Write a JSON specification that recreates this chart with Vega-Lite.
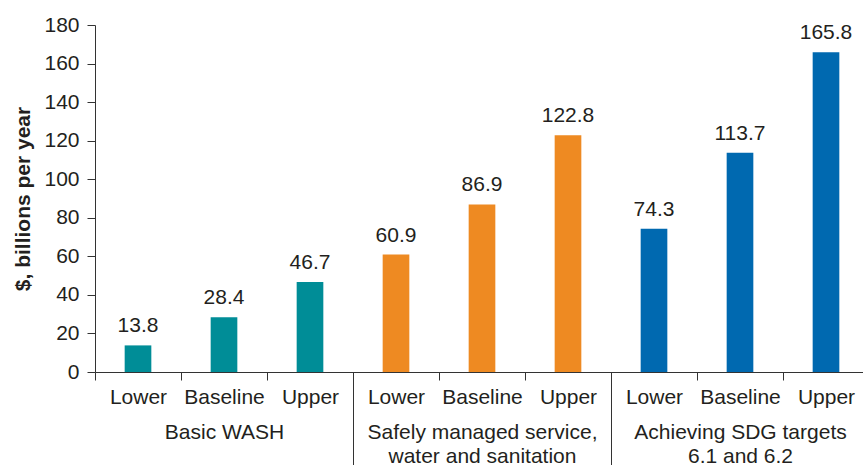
{
  "$schema": "https://vega.github.io/schema/vega-lite/v6.json",
  "width": 774,
  "height": 347,
  "autosize": "none",
  "padding": {"left": 95, "top": 25, "right": -6, "bottom": 93},
  "background": "white",
  "config": {
    "view": {"stroke": null},
    "font": "Liberation Sans",
    "axis": {
      "labelFont": "Liberation Sans",
      "titleFont": "Liberation Sans",
      "labelColor": "#231f20",
      "titleColor": "#231f20",
      "domainColor": "#333333",
      "tickColor": "#333333",
      "labelFontSize": 21,
      "grid": false
    }
  },
  "data": {
    "values": [
      {"group": "Basic WASH", "scenario": "Lower", "bar": "Basic WASH: Lower", "value": 13.8},
      {"group": "Basic WASH", "scenario": "Baseline", "bar": "Basic WASH: Baseline", "value": 28.4},
      {"group": "Basic WASH", "scenario": "Upper", "bar": "Basic WASH: Upper", "value": 46.7},
      {"group": "Safely managed service, water and sanitation", "scenario": "Lower", "bar": "Safely managed service, water and sanitation: Lower", "value": 60.9},
      {"group": "Safely managed service, water and sanitation", "scenario": "Baseline", "bar": "Safely managed service, water and sanitation: Baseline", "value": 86.9},
      {"group": "Safely managed service, water and sanitation", "scenario": "Upper", "bar": "Safely managed service, water and sanitation: Upper", "value": 122.8},
      {"group": "Achieving SDG targets 6.1 and 6.2", "scenario": "Lower", "bar": "Achieving SDG targets 6.1 and 6.2: Lower", "value": 74.3},
      {"group": "Achieving SDG targets 6.1 and 6.2", "scenario": "Baseline", "bar": "Achieving SDG targets 6.1 and 6.2: Baseline", "value": 113.7},
      {"group": "Achieving SDG targets 6.1 and 6.2", "scenario": "Upper", "bar": "Achieving SDG targets 6.1 and 6.2: Upper", "value": 165.8}
    ]
  },
  "encoding": {
    "y": {
      "field": "value",
      "type": "quantitative",
      "scale": {"domain": [0, 180], "nice": false},
      "axis": {
        "values": [0, 20, 40, 60, 80, 100, 120, 140, 160, 180],
        "title": "$, billions per year",
        "titleFontWeight": "bold",
        "titleFontSize": 21,
        "titlePadding": 10,
        "tickSize": 8,
        "labelPadding": 8
      }
    }
  },
  "layer": [
    {
      "mark": {"type": "bar", "width": {"band": 0.31}},
      "encoding": {
        "x": {
          "field": "bar",
          "type": "nominal",
          "sort": null,
          "scale": {"paddingInner": 0, "paddingOuter": 0},
          "axis": {
            "orient": "bottom",
            "title": null,
            "labelExpr": "split(datum.value, ': ')[1]",
            "labelAngle": 0,
            "labelPadding": 6,
            "labelOverlap": false,
            "labelLimit": 400,
            "tickBand": "extent",
            "tickSize": 8,
            "tickOpacity": {"condition": {"test": "datum.index >= 1 || datum.value == 'Achieving SDG targets 6.1 and 6.2: Upper'", "value": 0}, "value": 1}
          }
        },
        "color": {
          "field": "group",
          "type": "nominal",
          "sort": null,
          "scale": {"range": ["#008d97", "#ee8a22", "#0069b0"]},
          "legend": null
        }
      }
    },
    {
      "mark": {"type": "text", "baseline": "alphabetic", "dy": -13, "fontSize": 21, "color": "#231f20", "font": "Liberation Sans"},
      "encoding": {
        "x": {
          "field": "bar",
          "type": "nominal",
          "sort": null,
          "axis": {
            "orient": "bottom",
            "title": null,
            "domain": false,
            "labelExpr": "split(datum.value, ': ')[1] == 'Baseline' ? (split(datum.value, ': ')[0] == 'Basic WASH' ? 'Basic WASH' : (split(datum.value, ': ')[0] == 'Safely managed service, water and sanitation' ? ['Safely managed service,', 'water and sanitation'] : ['Achieving SDG targets', '6.1 and 6.2'])) : ''",
            "labelAngle": 0,
            "labelPadding": -44,
            "labelLineHeight": 24,
            "labelOverlap": false,
            "labelLimit": 400,
            "tickBand": "extent",
            "tickSize": 93,
            "tickOpacity": {"condition": {"test": "datum.index >= 1 || datum.value == 'Basic WASH: Upper' || datum.value == 'Safely managed service, water and sanitation: Upper'", "value": 1}, "value": 0}
          }
        },
        "text": {"field": "value", "type": "quantitative", "format": ".1f"}
      }
    }
  ],
  "resolve": {"axis": {"x": "independent"}}
}
